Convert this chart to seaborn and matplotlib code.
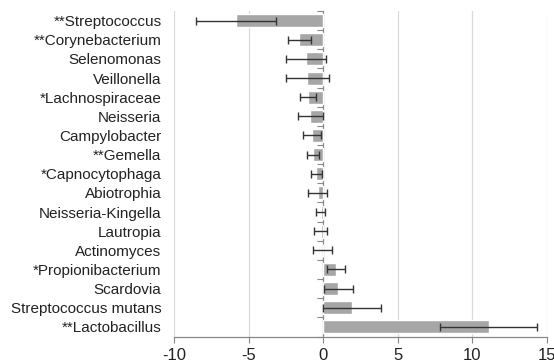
import pandas as pd
import seaborn as sns
from matplotlib import pyplot as plt

taxa = ["**Streptococcus", "**Corynebacterium", "Selenomonas", "Veillonella",
        "*Lachnospiraceae", "Neisseria", "Campylobacter", "**Gemella",
        "*Capnocytophaga", "Abiotrophia", "Neisseria-Kingella", "Lautropia",
        "Actinomyces", "*Propionibacterium", "Scardovia", "Streptococcus mutans",
        "**Lactobacillus"]
change = [-5.85, -1.6, -1.15, -1.07, -1.0, -0.85, -0.72, -0.7,
          -0.47, -0.36, -0.17, -0.17, -0.03, 0.86, 1.03, 1.93, 11.1]
error = [2.7, 0.76, 1.33, 1.45, 0.52, 0.86, 0.6, 0.4,
         0.37, 0.65, 0.31, 0.46, 0.63, 0.61, 0.98, 1.95, 3.25]
x_ticks = [-10, -5, 0, 5, 10, 15]

df = pd.DataFrame({"Taxon": taxa, "Change": change, "Error": error})

sns.set_theme(style="white")
plt.rcParams['font.family'] = ['Liberation Sans', 'DejaVu Sans']

fig = plt.figure(figsize=(5.54, 3.62), dpi=100)
ax = fig.add_axes([0.314, 0.0704, 0.673, 0.8992])

sns.barplot(data=df, x="Change", y="Taxon", orient="h", color="#a6a6a6",
            saturation=1, width=0.68, ax=ax, zorder=2)
ax.errorbar(df["Change"], range(len(taxa)), xerr=df["Error"], fmt="none",
            ecolor="#333333", elinewidth=1, capsize=3, capthick=1, zorder=3)

ax.set_xlim(-10, 15)
ax.set_ylim(len(taxa) - 0.5, -0.5)
ax.set_xticks(x_ticks)
ax.set_xticklabels([str(t) for t in x_ticks], fontsize=12, color="#222222")
ax.set_xlabel("")
ax.set_ylabel("")
ax.tick_params(axis="y", length=0, pad=9, labelsize=11, labelcolor="#222222")
ax.tick_params(axis="x", bottom=True, length=4, width=0.8, color="#888888", pad=4)

for t in x_ticks:
    if t != 0:
        ax.axvline(t, color="#d9d9d9", lw=0.9, zorder=0)

for side in ["top", "right", "left"]:
    ax.spines[side].set_visible(False)
ax.spines["bottom"].set_color("#888888")
ax.spines["bottom"].set_linewidth(0.9)

# category axis drawn at x = 0
zero_ax = ax.secondary_yaxis(0.4)
zero_ax.set_yticks([i - 0.5 for i in range(len(taxa) + 1)])
zero_ax.set_yticklabels([])
zero_ax.tick_params(axis="y", length=4, width=0.8, color="#888888", direction="out")
zero_ax.spines["left"].set_color("#888888")
zero_ax.spines["left"].set_linewidth(0.9)

fig.savefig("out.png", dpi=100)
